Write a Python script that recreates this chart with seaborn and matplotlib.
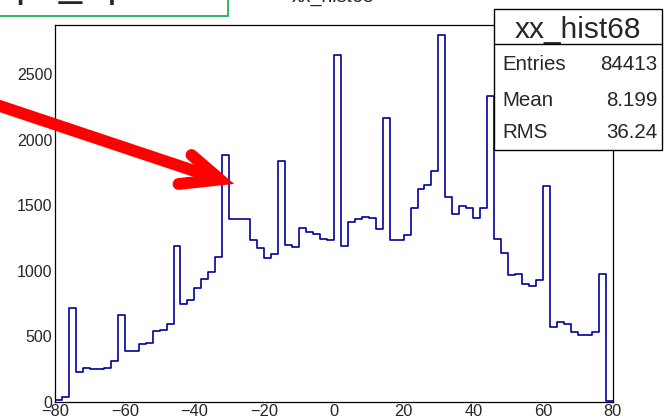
import numpy as np
import pandas as pd
import matplotlib
matplotlib.use("Agg")
import matplotlib.pyplot as plt
from matplotlib.patches import Rectangle
from matplotlib.lines import Line2D
import seaborn as sns

# Histogram of xx_hist68: 80 bins of width 2 between -80 and 80
x_low, x_high, bin_width = -80, 80, 2
bin_counts = [
    15, 38, 715, 227, 257, 250, 250, 257, 310, 662,
    387, 387, 443, 450, 540, 547, 593, 1188, 745, 776,
    868, 936, 990, 1104, 1888, 1394, 1394, 1394, 1234, 1173,
    1097, 1127, 1837, 1196, 1181, 1326, 1295, 1280, 1242, 1234,
    2646, 1188, 1372, 1394, 1410, 1402, 1318, 2166, 1234, 1234,
    1272, 1478, 1624, 1656, 1761, 2799, 1563, 1433, 1494, 1478,
    1402, 1478, 2334, 1242, 1135, 969, 975, 898, 883, 929,
    1644, 570, 608, 593, 532, 509, 509, 532, 975, 10,
]
x_ticks = [-80, -60, -40, -20, 0, 20, 40, 60, 80]
y_ticks = [0, 500, 1000, 1500, 2000, 2500]

hist_name = "xx_hist68"
stat_labels = ["Entries", "Mean", "RMS"]
stat_values = ["84413", "8.199", "36.24"]

sns.set_style("white")
plt.rcParams["font.family"] = ["Liberation Sans", "DejaVu Sans"]

W, H = 672, 419
fig = plt.figure(figsize=(W / 100, H / 100), dpi=100)


def fx(px):
    return px / W


def fy(py):
    return 1 - py / H


ax_left, ax_right, ax_top, ax_bottom = 55, 612.7, 25, 402
ax = fig.add_axes([fx(ax_left), fy(ax_bottom), fx(ax_right - ax_left), (ax_bottom - ax_top) / H])

centers = np.arange(x_low + bin_width / 2, x_high, bin_width)
df = pd.DataFrame({"x": centers, "w": np.asarray(bin_counts, dtype=float)})
sns.histplot(data=df, x="x", weights="w", binwidth=bin_width, binrange=(x_low, x_high),
             element="step", fill=False, color="#000099", linewidth=1.2, ax=ax)

ax.set_xlim(x_low, x_high)
ax.set_ylim(0, 2876)
ax.set_xlabel("")
ax.set_ylabel("")
ax.set_xticks(x_ticks)
ax.set_yticks(y_ticks)
ax.set_xticks(np.arange(-80, 81, 5), minor=True)
ax.set_yticks(np.arange(0, 2876, 100), minor=True)
ax.tick_params(axis="x", which="major", direction="in", length=8, width=0.9, pad=1.2,
               labelsize=11.8, top=False)
ax.tick_params(axis="x", which="minor", direction="in", length=4, width=0.9, top=False)
ax.tick_params(axis="y", which="major", direction="in", length=12.5, width=0.9, pad=2,
               labelsize=11.5, right=False)
ax.tick_params(axis="y", which="minor", direction="in", length=6, width=0.9, right=False)
for s in ax.spines.values():
    s.set_linewidth(0.9)
    s.set_color("black")

# Histogram title at the top of the canvas
fig.text(fx(333), fy(2), hist_name, ha="center", va="baseline", fontsize=14)

# Green text pave in the upper-left corner
fig.add_artist(Rectangle((fx(-5), fy(16)), fx(233), 30 / H, transform=fig.transFigure,
                         facecolor="white", edgecolor="#1fb25a", linewidth=1.3))
fig.text(fx(15), fy(-4), "ps_Tp", ha="left", va="baseline", fontsize=30)

# Statistics box
box_l, box_r, box_t, box_b = 494, 662, 9, 150
fig.add_artist(Rectangle((fx(box_l), fy(box_b)), fx(box_r - box_l), (box_b - box_t) / H,
                         transform=fig.transFigure, facecolor="white",
                         edgecolor="black", linewidth=1.0, zorder=5))
fig.add_artist(Line2D([fx(box_l), fx(box_r)], [fy(44), fy(44)], transform=fig.transFigure,
                      color="black", linewidth=1.0, zorder=6))
fig.text(fx((box_l + box_r) / 2), fy(38), hist_name, ha="center", va="baseline",
         fontsize=21.5, zorder=7)
for lab, val, base in zip(stat_labels, stat_values, [70, 106, 138]):
    fig.text(fx(502), fy(base), lab, ha="left", va="baseline", fontsize=14.8, zorder=7)
    fig.text(fx(657.5), fy(base), val, ha="right", va="baseline", fontsize=14.8, zorder=7)

# Red arrow pointing at the peak near -32
arrow_kw = dict(transform=fig.transFigure, color="red", linewidth=8.5,
                solid_capstyle="round", solid_joinstyle="miter", zorder=8)
fig.add_artist(Line2D([fx(-30), fx(214)], [fy(96), fy(177.5)], **arrow_kw))
fig.add_artist(Line2D([fx(191.5), fx(220), fx(178.5)], [fy(155), fy(179.5), fy(184)],
                      **arrow_kw))

fig.savefig("out.png", dpi=100, facecolor="white")
